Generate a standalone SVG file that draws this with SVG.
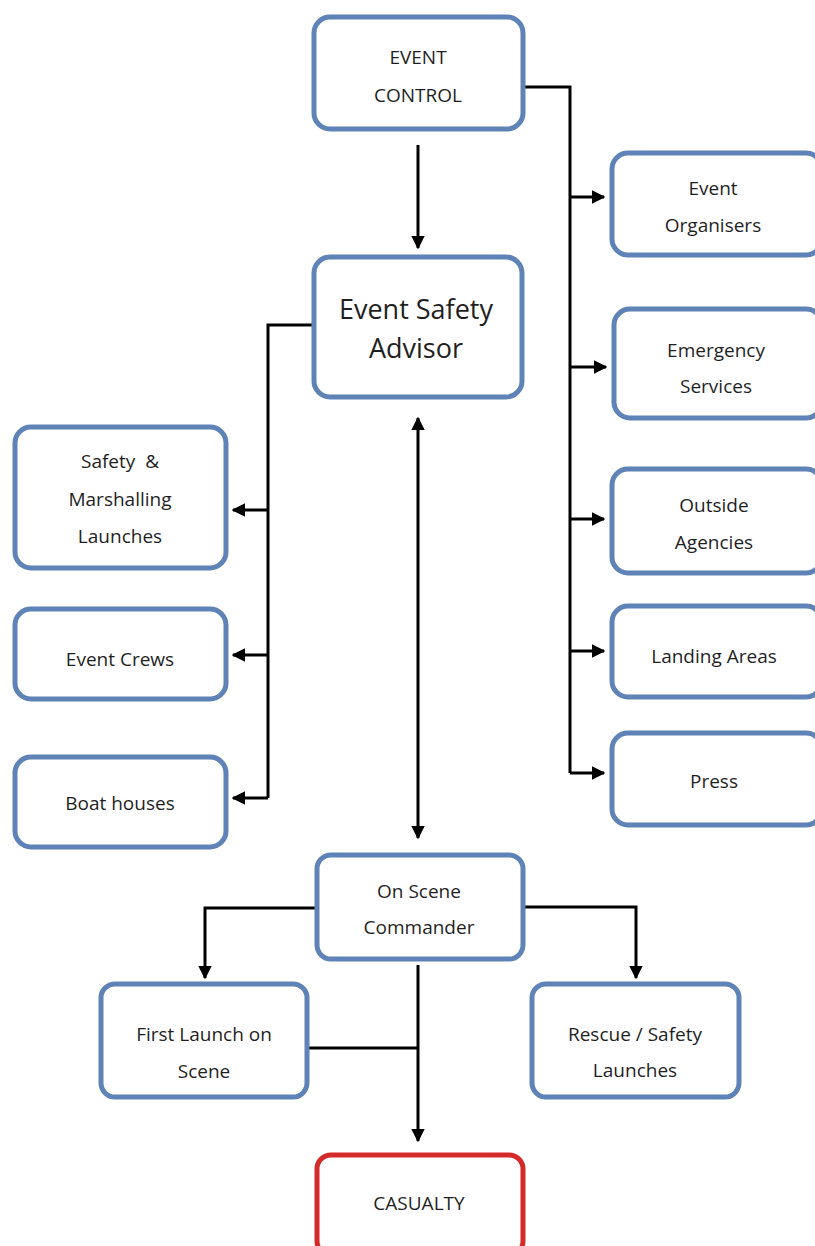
<svg xmlns="http://www.w3.org/2000/svg" width="815" height="1246" viewBox="0 0 815 1246">
<defs>
<style>
.box{fill:#ffffff;stroke:#5f83b6;stroke-width:5}
.red{fill:#ffffff;stroke:#d42a2a;stroke-width:5}
.t{font-family:"Open Sans","Liberation Sans",sans-serif;font-size:19px;fill:#1f1f1f;text-anchor:middle}
.big{font-size:27px}
.c{fill:none;stroke:#000;stroke-width:3}
</style>
<marker id="ah" viewBox="0 0 10 10" refX="9" refY="5" markerWidth="4.5" markerHeight="4.5" orient="auto-start-reverse" markerUnits="strokeWidth">
<path d="M0,0 L10,5 L0,10 z" fill="#000"/>
</marker>
</defs>
<rect width="815" height="1246" fill="#ffffff"/>
<g id="connectors">
<path class="c" d="M524,87 H570 V773"/>
<path class="c" d="M570,197 H604" marker-end="url(#ah)"/>
<path class="c" d="M570,367 H606" marker-end="url(#ah)"/>
<path class="c" d="M570,519 H604" marker-end="url(#ah)"/>
<path class="c" d="M570,651 H604" marker-end="url(#ah)"/>
<path class="c" d="M570,773 H604" marker-end="url(#ah)"/>
<path class="c" d="M418,145 V248" marker-end="url(#ah)"/>
<path class="c" d="M312,325 H268 V798"/>
<path class="c" d="M268,510 H233" marker-end="url(#ah)"/>
<path class="c" d="M268,655 H233" marker-end="url(#ah)"/>
<path class="c" d="M268,798 H233" marker-end="url(#ah)"/>
<path class="c" d="M418,418 V838" marker-start="url(#ah)" marker-end="url(#ah)"/>
<path class="c" d="M315,908 H205 V978" marker-end="url(#ah)"/>
<path class="c" d="M524,907 H636 V978" marker-end="url(#ah)"/>
<path class="c" d="M418,965 V1141" marker-end="url(#ah)"/>
<path class="c" d="M308,1048 H418"/>
</g>
<g id="event-control"><rect class="box" x="314" y="17" width="209" height="112" rx="16"/><text class="t" x="418" y="64">EVENT</text><text class="t" x="418" y="102">CONTROL</text></g>
<g id="event-safety-advisor"><rect class="box" x="314" y="257" width="208" height="140" rx="16"/><text class="t big" x="416" y="319">Event Safety</text><text class="t big" x="416" y="358">Advisor</text></g>
<g id="event-organisers"><rect class="box" x="612" y="153" width="210" height="102" rx="16"/><text class="t" x="713" y="195">Event</text><text class="t" x="713" y="232">Organisers</text></g>
<g id="emergency-services"><rect class="box" x="614" y="309" width="208" height="109" rx="16"/><text class="t" x="716" y="357">Emergency</text><text class="t" x="716" y="393">Services</text></g>
<g id="outside-agencies"><rect class="box" x="612" y="469" width="210" height="104" rx="16"/><text class="t" x="714" y="512">Outside</text><text class="t" x="714" y="549">Agencies</text></g>
<g id="landing-areas"><rect class="box" x="612" y="606" width="210" height="91" rx="16"/><text class="t" x="714" y="663">Landing Areas</text></g>
<g id="press"><rect class="box" x="612" y="733" width="210" height="92" rx="16"/><text class="t" x="714" y="788">Press</text></g>
<g id="safety-marshalling"><rect class="box" x="15" y="427" width="211" height="141" rx="16"/><text class="t" x="120" y="468" xml:space="preserve" style="white-space:pre">Safety  &amp;</text><text class="t" x="120" y="506">Marshalling</text><text class="t" x="120" y="543">Launches</text></g>
<g id="event-crews"><rect class="box" x="15" y="609" width="211" height="90" rx="16"/><text class="t" x="120" y="666">Event Crews</text></g>
<g id="boat-houses"><rect class="box" x="15" y="757" width="211" height="90" rx="16"/><text class="t" x="120" y="810">Boat houses</text></g>
<g id="on-scene-commander"><rect class="box" x="317" y="855" width="206" height="104" rx="14"/><text class="t" x="419" y="898">On Scene</text><text class="t" x="419" y="934">Commander</text></g>
<g id="first-launch"><rect class="box" x="101" y="984" width="206" height="113" rx="14"/><text class="t" x="204" y="1041">First Launch on</text><text class="t" x="204" y="1078">Scene</text></g>
<g id="rescue-safety"><rect class="box" x="532" y="984" width="207" height="113" rx="14"/><text class="t" x="635" y="1041">Rescue / Safety</text><text class="t" x="635" y="1077">Launches</text></g>
<g id="casualty"><rect class="red" x="317" y="1155" width="206" height="100" rx="14"/><text class="t" x="419" y="1210">CASUALTY</text></g>
</svg>
